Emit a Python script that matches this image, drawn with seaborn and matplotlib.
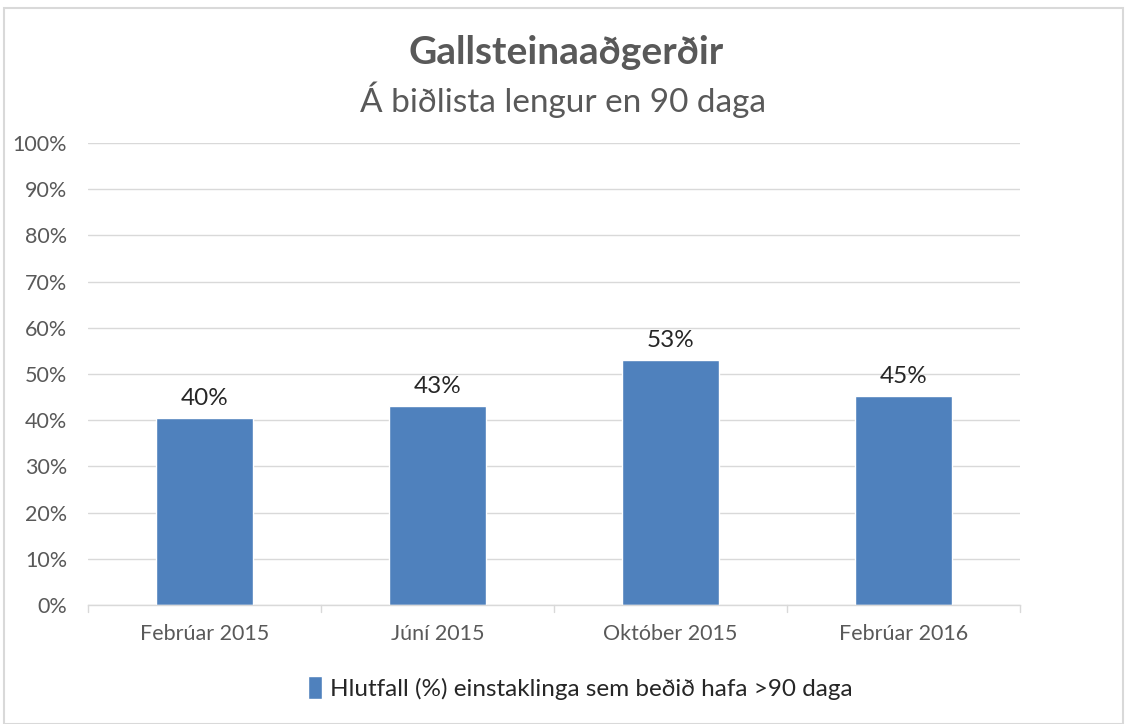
import matplotlib
matplotlib.use("Agg")
import matplotlib.pyplot as plt
import seaborn as sns
import pandas as pd
from matplotlib.patches import Rectangle

categories = ["Febrúar 2015", "Júní 2015", "Október 2015", "Febrúar 2016"]
values = [40.4, 43.0, 53.0, 45.2]
labels = ["40%", "43%", "53%", "45%"]
yticks = [0, 10, 20, 30, 40, 50, 60, 70, 80, 90, 100]
series_name = "Hlutfall (%) einstaklinga sem beðið hafa >90 daga"

sns.set_theme(style="white")
plt.rcParams['font.family'] = ['Lato', 'DejaVu Sans']

df = pd.DataFrame({"cat": categories, "val": values})

fig = plt.figure(figsize=(11.33, 7.24), dpi=100)
ax = fig.add_axes([88/1133, 1 - 605/724, (1020-88)/1133, (605-143)/724])

bar_color = "#4F81BD"
sns.barplot(data=df, x="cat", y="val", color=bar_color, width=0.42,
            saturation=1, ax=ax)

ax.set_ylim(0, 100)
ax.set_xlim(-0.5, len(categories) - 0.5)
ax.set_yticks(yticks)
ax.set_yticklabels([f"{t}%" for t in yticks], fontsize=15.5, color="#595959")
ax.tick_params(axis="x", labelsize=15.5, labelcolor="#595959", length=0, pad=14)
ax.tick_params(axis="y", length=0, pad=15)
ax.set_xlabel("")
ax.set_ylabel("")
ax.yaxis.grid(True, color="#D9D9D9", linewidth=1)
ax.set_axisbelow(True)
for s in ["top", "right", "left"]:
    ax.spines[s].set_visible(False)
ax.spines["bottom"].set_color("#D9D9D9")
ax.spines["bottom"].set_linewidth(1)

# category separator ticks
for i in range(len(categories) + 1):
    ax.plot([i - 0.5, i - 0.5], [0, -1.6], color="#D9D9D9", linewidth=1,
            clip_on=False)

for i, (v, l) in enumerate(zip(values, labels)):
    ax.text(i, v + 2.0, l, ha="center", va="bottom", fontsize=17.5,
            color="#262626")

fig.text(566/1133, 1 - 53/724, "Gallsteinaaðgerðir", ha="center",
         va="center", fontsize=28, fontweight="bold", color="#595959")
fig.text(563/1133, 1 - 100/724, "Á biðlista lengur en 90 daga", ha="center",
         va="center", fontsize=24, color="#595959")

leg = fig.legend(handles=ax.patches[:1], labels=[series_name],
                 loc="center", bbox_to_anchor=(580/1133, 1 - 688/724),
                 frameon=False, fontsize=17.5, handlelength=0.6,
                 handleheight=1.1, handletextpad=0.3)
for t in leg.get_texts():
    t.set_color("#262626")

# outer border
fig.patches.append(Rectangle((4/1133, 0), 1119/1133, 1 - 8/724,
                             transform=fig.transFigure, fill=False,
                             edgecolor="#D9D9D9", linewidth=1.5))

fig.savefig("out.png", dpi=100)
